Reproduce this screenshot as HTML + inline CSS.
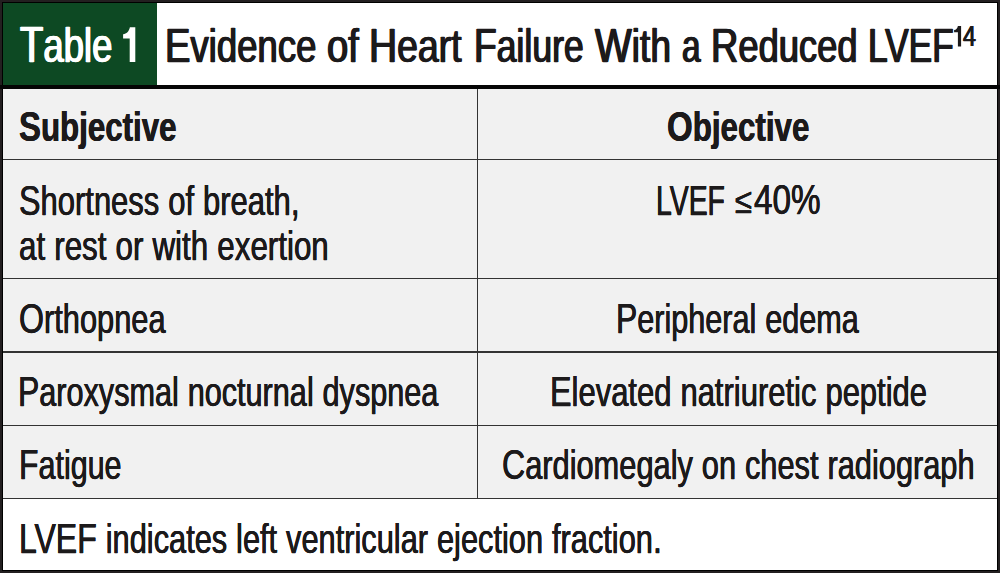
<!DOCTYPE html>
<html><head><meta charset="utf-8"><style>
html,body{margin:0;padding:0;}
body{width:1000px;height:573px;position:relative;overflow:hidden;background:#231f20;font-family:"Liberation Sans",sans-serif;}
.t{position:absolute;line-height:1;white-space:nowrap;transform-origin:0 0;}
.r{position:absolute;}
</style></head><body>
<div class="r" style="left:2px;top:2px;width:996px;height:569px;background:#000"></div>
<div class="r" style="left:3px;top:3px;width:994px;height:82px;background:#fff"></div>
<div class="r" style="left:3px;top:3px;width:154px;height:82px;background:#0d4923"></div>
<div class="r" style="left:0;top:85px;width:1000px;height:4px;background:#050505"></div>
<div class="r" style="left:3px;top:89px;width:994px;height:409px;background:#f1f1f1"></div>
<div class="r" style="left:3px;top:498.5px;width:994px;height:71.5px;background:#fff"></div>
<div class="r" style="left:3px;top:158.8px;width:994px;height:1.5px;background:#333333"></div>
<div class="r" style="left:3px;top:277.8px;width:994px;height:1.5px;background:#333333"></div>
<div class="r" style="left:3px;top:351px;width:994px;height:1.5px;background:#333333"></div>
<div class="r" style="left:3px;top:424.5px;width:994px;height:1.5px;background:#333333"></div>
<div class="r" style="left:3px;top:497.5px;width:994px;height:1.5px;background:#333333"></div>
<div class="r" style="left:476.8px;top:89px;width:1.6px;height:409px;background:#333333"></div>
<svg style="position:absolute;left:0;top:0" width="1000" height="90" viewBox="0 0 1000 90"><path d="M129.9,27.3 L135.3,27.3 L135.3,62 L129.7,62 L129.7,38.6 L123.1,38.6 L123.1,34.2 C126.6,33.9 129.0,31.4 129.9,27.3 Z" fill="#fff"/><path d="M957.9,25.9 L961.1,25.9 L961.1,46.4 L957.9,46.4 L957.9,32.3 L954.1,32.3 L954.1,29.9 C956.2,29.8 957.5,28.3 957.9,25.9 Z" fill="#1c1a1b"/></svg>
<div class="t" style="left:20.25px;top:19.70px;font-size:49.50px;font-weight:normal;color:#fff;-webkit-text-stroke:0.3px #fff;text-shadow:0.844px 0 0 #fff,-0.844px 0 0 #fff;transform:scaleX(0.7698)">T<span style="font-size:0.96em">able</span></div>
<div class="t" style="left:165.30px;top:20.98px;font-size:48.70px;font-weight:normal;color:#1c1a1b;-webkit-text-stroke:0.3px #1c1a1b;text-shadow:0.831px 0 0 #1c1a1b,-0.831px 0 0 #1c1a1b;transform:scaleX(0.7819)">E<span style="font-size:0.96em">vidence</span></div>
<div class="t" style="left:326.60px;top:20.98px;font-size:48.70px;font-weight:normal;color:#1c1a1b;-webkit-text-stroke:0.3px #1c1a1b;text-shadow:0.797px 0 0 #1c1a1b,-0.797px 0 0 #1c1a1b;transform:scaleX(0.8159)"><span style="font-size:0.96em">of</span></div>
<div class="t" style="left:369.10px;top:20.98px;font-size:48.70px;font-weight:normal;color:#1c1a1b;-webkit-text-stroke:0.3px #1c1a1b;text-shadow:0.813px 0 0 #1c1a1b,-0.813px 0 0 #1c1a1b;transform:scaleX(0.7994)">H<span style="font-size:0.96em">eart</span></div>
<div class="t" style="left:473.56px;top:20.98px;font-size:48.70px;font-weight:normal;color:#1c1a1b;-webkit-text-stroke:0.3px #1c1a1b;text-shadow:0.853px 0 0 #1c1a1b,-0.853px 0 0 #1c1a1b;transform:scaleX(0.7617)">F<span style="font-size:0.96em">ailure</span></div>
<div class="t" style="left:595.45px;top:20.98px;font-size:48.70px;font-weight:normal;color:#1c1a1b;-webkit-text-stroke:0.3px #1c1a1b;text-shadow:0.815px 0 0 #1c1a1b,-0.815px 0 0 #1c1a1b;transform:scaleX(0.7978)">W<span style="font-size:0.96em">ith</span></div>
<div class="t" style="left:681.58px;top:20.98px;font-size:48.70px;font-weight:normal;color:#1c1a1b;-webkit-text-stroke:0.3px #1c1a1b;text-shadow:0.915px 0 0 #1c1a1b,-0.915px 0 0 #1c1a1b;transform:scaleX(0.7104)"><span style="font-size:0.96em">a</span></div>
<div class="t" style="left:711.09px;top:20.98px;font-size:48.70px;font-weight:normal;color:#1c1a1b;-webkit-text-stroke:0.3px #1c1a1b;text-shadow:0.836px 0 0 #1c1a1b,-0.836px 0 0 #1c1a1b;transform:scaleX(0.7773)">R<span style="font-size:0.96em">educed</span></div>
<div class="t" style="left:867.76px;top:20.98px;font-size:48.70px;font-weight:normal;color:#1c1a1b;-webkit-text-stroke:0.3px #1c1a1b;text-shadow:0.896px 0 0 #1c1a1b,-0.896px 0 0 #1c1a1b;transform:scaleX(0.7258)">LVEF</div>
<div class="t" style="left:962.79px;top:21.17px;font-size:29.80px;font-weight:normal;color:#1c1a1b;-webkit-text-stroke:0.2px #1c1a1b;text-shadow:0.513px 0 0 #1c1a1b,-0.513px 0 0 #1c1a1b;transform:scaleX(0.7795)">4</div>
<div class="t" style="left:19.27px;top:104.89px;font-size:42.80px;font-weight:bold;color:#1c1a1b;text-shadow:0.390px 0 0 #1c1a1b,-0.390px 0 0 #1c1a1b;transform:scaleX(0.7691)">S<span style="font-size:0.95em">ubjective</span></div>
<div class="t" style="left:667.04px;top:104.90px;font-size:42.80px;font-weight:bold;color:#1c1a1b;text-shadow:0.389px 0 0 #1c1a1b,-0.389px 0 0 #1c1a1b;transform:scaleX(0.7712)">O<span style="font-size:0.95em">bjective</span></div>
<div class="t" style="left:18.99px;top:179.59px;font-size:41.60px;font-weight:normal;color:#1c1a1b;-webkit-text-stroke:0.25px #1c1a1b;text-shadow:0.322px 0 0 #1c1a1b,-0.322px 0 0 #1c1a1b;transform:scaleX(0.7756)">S<span style="font-size:0.96em">hortness</span> <span style="font-size:0.96em">of</span> <span style="font-size:0.96em">breath</span>,</div>
<div class="t" style="left:19.05px;top:224.87px;font-size:41.60px;font-weight:normal;color:#1c1a1b;-webkit-text-stroke:0.25px #1c1a1b;text-shadow:0.318px 0 0 #1c1a1b,-0.318px 0 0 #1c1a1b;transform:scaleX(0.7850)"><span style="font-size:0.96em">at</span> <span style="font-size:0.96em">rest</span> <span style="font-size:0.96em">or</span> <span style="font-size:0.96em">with</span> <span style="font-size:0.96em">exertion</span></div>
<div class="t" style="left:655.53px;top:179.89px;font-size:41.60px;font-weight:normal;color:#1c1a1b;-webkit-text-stroke:0.25px #1c1a1b;text-shadow:0.366px 0 0 #1c1a1b,-0.366px 0 0 #1c1a1b;transform:scaleX(0.6829)">LVEF</div>
<div class="t" style="left:735.22px;top:183.88px;font-size:35.47px;font-weight:normal;color:#1c1a1b;-webkit-text-stroke:0.25px #1c1a1b;text-shadow:0.286px 0 0 #1c1a1b,-0.286px 0 0 #1c1a1b;transform:scaleX(0.8733)">≤</div>
<div class="t" style="left:753.87px;top:178.99px;font-size:41.60px;font-weight:normal;color:#1c1a1b;-webkit-text-stroke:0.25px #1c1a1b;text-shadow:0.313px 0 0 #1c1a1b,-0.313px 0 0 #1c1a1b;transform:scaleX(0.7995)">40%</div>
<div class="t" style="left:19.25px;top:298.14px;font-size:41.60px;font-weight:normal;color:#1c1a1b;-webkit-text-stroke:0.25px #1c1a1b;text-shadow:0.324px 0 0 #1c1a1b,-0.324px 0 0 #1c1a1b;transform:scaleX(0.7717)">O<span style="font-size:0.96em">rthopnea</span></div>
<div class="t" style="left:615.97px;top:298.14px;font-size:41.60px;font-weight:normal;color:#1c1a1b;-webkit-text-stroke:0.25px #1c1a1b;text-shadow:0.326px 0 0 #1c1a1b,-0.326px 0 0 #1c1a1b;transform:scaleX(0.7662)">P<span style="font-size:0.96em">eripheral</span> <span style="font-size:0.96em">edema</span></div>
<div class="t" style="left:18.48px;top:371.09px;font-size:41.60px;font-weight:normal;color:#1c1a1b;-webkit-text-stroke:0.25px #1c1a1b;text-shadow:0.326px 0 0 #1c1a1b,-0.326px 0 0 #1c1a1b;transform:scaleX(0.7671)">P<span style="font-size:0.96em">aroxysmal</span> <span style="font-size:0.96em">nocturnal</span> <span style="font-size:0.96em">dyspnea</span></div>
<div class="t" style="left:549.98px;top:371.09px;font-size:41.60px;font-weight:normal;color:#1c1a1b;-webkit-text-stroke:0.25px #1c1a1b;text-shadow:0.322px 0 0 #1c1a1b,-0.322px 0 0 #1c1a1b;transform:scaleX(0.7760)">E<span style="font-size:0.96em">levated</span> <span style="font-size:0.96em">natriuretic</span> <span style="font-size:0.96em">peptide</span></div>
<div class="t" style="left:18.97px;top:444.39px;font-size:41.60px;font-weight:normal;color:#1c1a1b;-webkit-text-stroke:0.25px #1c1a1b;text-shadow:0.327px 0 0 #1c1a1b,-0.327px 0 0 #1c1a1b;transform:scaleX(0.7643)">F<span style="font-size:0.96em">atigue</span></div>
<div class="t" style="left:501.50px;top:444.39px;font-size:41.60px;font-weight:normal;color:#1c1a1b;-webkit-text-stroke:0.25px #1c1a1b;text-shadow:0.324px 0 0 #1c1a1b,-0.324px 0 0 #1c1a1b;transform:scaleX(0.7711)">C<span style="font-size:0.96em">ardiomegaly</span> <span style="font-size:0.96em">on</span> <span style="font-size:0.96em">chest</span> <span style="font-size:0.96em">radiograph</span></div>
<div class="t" style="left:18.50px;top:518.19px;font-size:41.60px;font-weight:normal;color:#1c1a1b;-webkit-text-stroke:0.25px #1c1a1b;text-shadow:0.324px 0 0 #1c1a1b,-0.324px 0 0 #1c1a1b;transform:scaleX(0.7709)">LVEF <span style="font-size:0.96em">indicates</span> <span style="font-size:0.96em">left</span> <span style="font-size:0.96em">ventricular</span> <span style="font-size:0.96em">ejection</span> <span style="font-size:0.96em">fraction</span>.</div>
</body></html>
